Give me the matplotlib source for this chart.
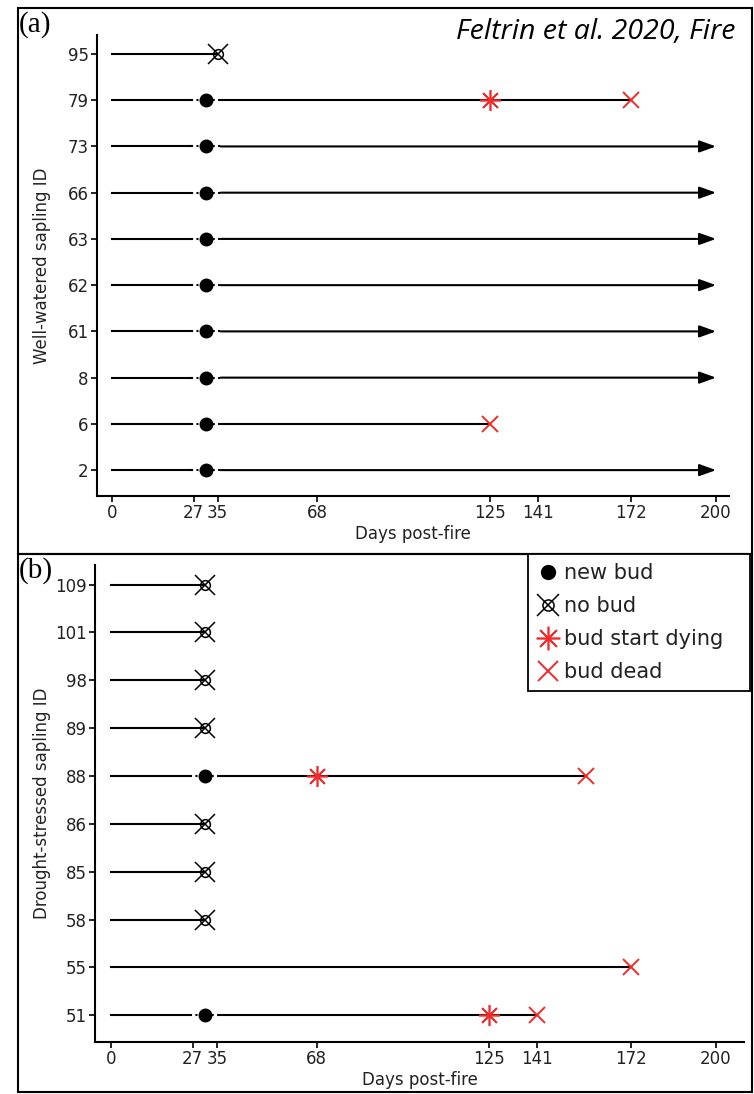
import matplotlib.pyplot as plt
from matplotlib.lines import Line2D
from matplotlib.patches import Rectangle
from matplotlib.legend_handler import HandlerTuple

# well-watered saplings (panel a), top row first
ww_ids = [95, 79, 73, 66, 63, 62, 61, 8, 6, 2]
ww_end = [35, 172, 200, 200, 200, 200, 200, 200, 125, 200]
ww_new_bud = [None, 31, 31, 31, 31, 31, 31, 31, 31, 31]
ww_no_bud = [35, None, None, None, None, None, None, None, None, None]
ww_start_dying = [None, 125, None, None, None, None, None, None, None, None]
ww_dead = [None, 172, None, None, None, None, None, None, 125, None]
ww_alive = [False, False, True, True, True, True, True, True, False, True]

# drought-stressed saplings (panel b)
ds_ids = [109, 101, 98, 89, 88, 86, 85, 58, 55, 51]
ds_end = [31, 31, 31, 31, 157, 31, 31, 31, 172, 141]
ds_new_bud = [None, None, None, None, 31, None, None, None, None, 31]
ds_no_bud = [31, 31, 31, 31, None, 31, 31, 31, None, None]
ds_start_dying = [None, None, None, None, 68, None, None, None, None, 125]
ds_dead = [None, None, None, None, 157, None, None, None, 172, 141]
ds_alive = [False] * 10

day_ticks = [0, 27, 35, 68, 125, 141, 172, 200]

RED = '#f42a2a'
W, H = 754, 1094


def draw_panel(ax, ids, end, new_bud, no_bud, dying, dead, alive):
    n = len(ids)
    for i in range(n):
        y = n - 1 - i
        start = 0
        if new_bud[i] is not None:
            nb = new_bud[i]
            ax.plot([0, nb - 5], [y, y], color='k', lw=1.5)
            ax.plot([nb - 5, nb + 5], [y, y], color='k', lw=1.5, ls=(0, (1.0, 1.6)))
            start = nb + 5
        if alive[i]:
            ax.annotate('', xy=(end[i], y), xytext=(start, y),
                        arrowprops=dict(arrowstyle='-|>,head_length=0.5,head_width=0.18',
                                        color='k', lw=1.5, mutation_scale=20,
                                        shrinkA=0, shrinkB=0))
        else:
            ax.plot([start, end[i]], [y, y], color='k', lw=1.5)
        if new_bud[i] is not None:
            ax.plot(new_bud[i], y, marker='o', color='k', ms=9, zorder=5)
        if no_bud[i] is not None:
            ax.plot(no_bud[i], y, marker='x', color='k', ms=14, mew=1.1, zorder=5)
            ax.plot(no_bud[i], y, marker='o', mfc='none', mec='k', ms=7, mew=1.1, zorder=5)
        if dying[i] is not None:
            ax.plot(dying[i], y, marker=(8, 2, 0), color=RED, ms=15, mew=1.2, zorder=5)
        if dead[i] is not None:
            ax.plot(dead[i], y, marker='x', color=RED, ms=12, mew=1.4, zorder=5)

    ax.set_yticks(range(n))
    ax.set_yticklabels([str(v) for v in ids[::-1]])
    ax.set_xticks(day_ticks)
    ax.set_ylim(-0.56, n - 1 + 0.41)
    for s in ['top', 'right']:
        ax.spines[s].set_visible(False)
    for s in ['left', 'bottom']:
        ax.spines[s].set_linewidth(1.5)
    ax.tick_params(labelsize=12, labelcolor='#222222', length=4, width=1.2, pad=2)
    ax.set_xlabel('Days post-fire', fontsize=12, color='#222222', labelpad=2)


fig = plt.figure(figsize=(W / 100, H / 100), dpi=100)

ax_a = fig.add_axes([97 / W, 1 - 496 / H, (729 - 97) / W, (496 - 35) / H])
draw_panel(ax_a, ww_ids, ww_end, ww_new_bud, ww_no_bud, ww_start_dying, ww_dead, ww_alive)
ax_a.set_xlim(-4.97, 204.3)
ax_a.set_ylabel('Well-watered sapling ID', fontsize=12, color='#222222')
ax_a.yaxis.set_label_coords(-0.072, 0.5)

ax_b = fig.add_axes([95 / W, 1 - 1042 / H, (744 - 95) / W, (1042 - 565) / H])
draw_panel(ax_b, ds_ids, ds_end, ds_new_bud, ds_no_bud, ds_start_dying, ds_dead, ds_alive)
ax_b.set_xlim(-5.3, 209.3)
ax_b.set_ylabel('Drought-stressed sapling ID', fontsize=12, color='#222222')
ax_b.yaxis.set_label_coords(-0.068, 0.5)

# panel frames
fig.add_artist(Rectangle((18 / W, 1 - 554 / H), (752 - 18) / W, (554 - 8) / H,
                         transform=fig.transFigure, fill=False, ec='k', lw=1.5))
fig.add_artist(Rectangle((18 / W, 1 - 1092 / H), (752 - 18) / W, (1092 - 554) / H,
                         transform=fig.transFigure, fill=False, ec='k', lw=1.5))

fig.text(19 / W, 1 - 32 / H, '(a)', family='Liberation Serif', fontsize=21, va='baseline')
fig.text(19 / W, 1 - 578 / H, '(b)', family='Liberation Serif', fontsize=21, va='baseline')
fig.text(735 / W, 1 - 39 / H, 'Feltrin et al. 2020, Fire', ha='right', va='baseline',
         fontsize=20.5, style='italic', family='Open Sans')

# legend
h_new = Line2D([], [], marker='o', color='k', ls='none', ms=10)
h_no = (Line2D([], [], marker='x', color='k', ls='none', ms=16, mew=1.1),
        Line2D([], [], marker='o', mfc='none', mec='k', ls='none', ms=8, mew=1.1))
h_dying = Line2D([], [], marker=(8, 2, 0), color=RED, ls='none', ms=17, mew=1.2)
h_dead = Line2D([], [], marker='x', color=RED, ls='none', ms=15, mew=1.4)
leg = fig.legend([h_new, h_no, h_dying, h_dead],
                 ['new bud', 'no bud', 'bud start dying', 'bud dead'],
                 handler_map={tuple: HandlerTuple(ndivide=1, pad=0)},
                 loc='upper left', bbox_to_anchor=(528 / W, 1 - 693 / H, 222 / W, 139 / H),
                 mode='expand', fontsize=15, frameon=True, fancybox=False, framealpha=1,
                 edgecolor='k', borderaxespad=0, handlelength=1.0,
                 handletextpad=0.3, labelspacing=0.62, borderpad=0.45)
leg.get_frame().set_linewidth(1.3)
for t in leg.get_texts():
    t.set_color('#222222')

plt.savefig('out.png', dpi=100)
